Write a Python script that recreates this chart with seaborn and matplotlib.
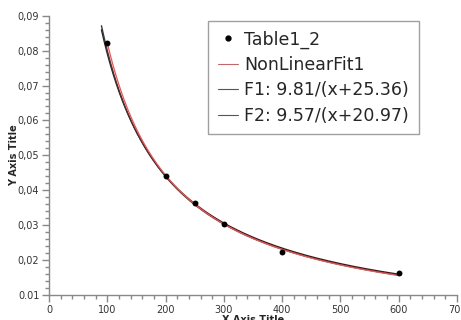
import numpy as np
import pandas as pd
import matplotlib
matplotlib.use("Agg")
import matplotlib.pyplot as plt
import seaborn as sns
from matplotlib.ticker import MultipleLocator, FixedLocator, FixedFormatter
from matplotlib.lines import Line2D

# Data
x_data = [100, 200, 250, 300, 400, 600]
y_data = [0.0822, 0.0442, 0.0363, 0.0304, 0.0224, 0.0163]

# Curve parameters a/(x+b), as they appear drawn in the picture
fit_params = (9.61, 16.9)       # NonLinearFit1 (estimated)
f1_params = (9.98, 26.1)        # F1 as drawn
f2_params = (9.75, 21.9)        # F2 as drawn
fit_range = (100, 600)
f_range = (90, 600)

labels = ["Table1_2", "NonLinearFit1", "F1: 9.81/(x+25.36)", "F2: 9.57/(x+20.97)"]
y_ticks = [0.01, 0.02, 0.03, 0.04, 0.05, 0.06, 0.07, 0.08, 0.09]
y_ticklabels = ["0.01", "0,02", "0,03", "0,04", "0,05", "0,06", "0,07", "0,08", "0,09"]

sns.set_theme(style="white")
plt.rcParams['font.family'] = ['DejaVu Sans']

fig = plt.figure(figsize=(4.61, 3.2), dpi=100)
ax = fig.add_axes([49/461, 25/320, 408/461, 279.3/320])

pts = pd.DataFrame({"x": x_data, "y": y_data})

def curve(params, rng, name):
    xs = np.linspace(rng[0], rng[1], 200)
    return pd.DataFrame({"x": xs, "y": params[0] / (xs + params[1]), "s": name})

c_fit = curve(fit_params, fit_range, labels[1])
c_f1 = curve(f1_params, f_range, labels[2])
c_f2 = curve(f2_params, f_range, labels[3])

sns.lineplot(data=c_f1, x="x", y="y", ax=ax, color="#222222", lw=1.0, legend=False, zorder=2)
sns.lineplot(data=c_f2, x="x", y="y", ax=ax, color="#3a3a3a", lw=1.0, legend=False, zorder=2)
sns.lineplot(data=c_fit, x="x", y="y", ax=ax, color="#ff4d4d", lw=0.9, legend=False, zorder=3)
sns.scatterplot(data=pts, x="x", y="y", ax=ax, color="black", s=18, edgecolor="black",
                linewidth=0, legend=False, zorder=4)

ax.set_xlim(0, 700)
ax.set_ylim(0.01, 0.09)

ax.xaxis.set_major_locator(MultipleLocator(100))
ax.xaxis.set_minor_locator(MultipleLocator(20))
ax.yaxis.set_major_locator(FixedLocator(y_ticks))
ax.yaxis.set_major_formatter(FixedFormatter(y_ticklabels))
ax.yaxis.set_minor_locator(MultipleLocator(0.002))

for s in ["top", "right"]:
    ax.spines[s].set_visible(False)
for s in ["left", "bottom"]:
    ax.spines[s].set_color("#888888")
    ax.spines[s].set_linewidth(1.0)

ax.tick_params(axis="both", which="major", direction="out", length=5, width=1, color="#888888",
               labelsize=7, labelcolor="#333333", pad=2, left=True, bottom=True)
ax.tick_params(axis="both", which="minor", direction="out", length=3, width=1, color="#888888",
               left=True, bottom=True)

ax.set_xlabel("X Axis Title", fontsize=7, fontweight="bold", labelpad=0)
ax.set_ylabel("Y Axis Title", fontsize=7, fontweight="bold")
ax.yaxis.set_label_coords(-0.074, 0.5)
ax.grid(False)

handles = [
    Line2D([], [], marker="o", color="black", ls="none", markersize=3.5),
    Line2D([], [], color="#ff4d4d", lw=0.8),
    Line2D([], [], color="#555555", lw=0.8),
    Line2D([], [], color="#555555", lw=0.8),
]
leg = fig.legend(handles, labels, loc="upper left", bbox_to_anchor=(208/461, 1 - 21/320),
                 fontsize=12.5, frameon=True, fancybox=False, handlelength=1.15,
                 handletextpad=0.4, borderpad=0.55, labelspacing=0.42, borderaxespad=0)
leg.get_frame().set_edgecolor("#888888")
leg.get_frame().set_linewidth(1.0)

fig.savefig("out.png", dpi=100)
